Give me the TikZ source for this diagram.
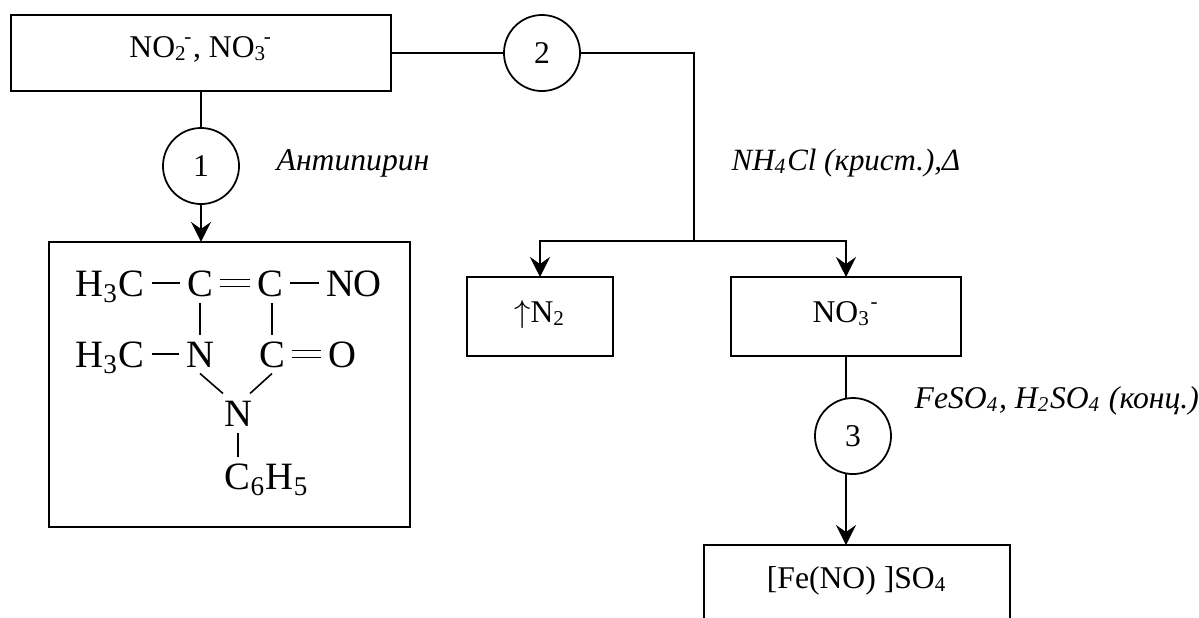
\documentclass[tikz,border=0pt]{standalone}
\usepackage{fontspec}
\setmainfont{Liberation Serif}
\usetikzlibrary{arrows.meta}

\tikzset{
	box/.style={draw,line width=0.55pt,inner sep=0pt,outer sep=0pt,font=\fontsize{9}{11}\selectfont},
	circ/.style={draw,circle,line width=0.5pt,minimum size=0.76cm,inner sep=0pt,outer sep=0pt,font=\fontsize{9}{11}\selectfont},
	atom/.style={inner xsep=0.07cm,inner ysep=0.06cm,outer sep=0pt,text height=0.27cm,text depth=0pt,font=\fontsize{11}{13}\selectfont},
	cond/.style={anchor=base west,inner sep=0pt,font=\fontsize{9}{11}\selectfont\itshape},
	line/.style={line width=0.5pt},
	arr/.style={line width=0.5pt,-{Stealth[length=0.2cm,width=0.2cm,inset=0.07cm]}},
	bond/.style={line width=0.45pt},
	dbond/.style={line width=0.45pt,double,double distance=0.055cm}
}

\begin{document}
\begin{tikzpicture}[x=0.01cm,y=-0.01cm]
	\useasboundingbox (0,0) rectangle (1199,617);
	\clip (0,0) rectangle (1199,617);
	% boxes
	\node[box,minimum width=3.8cm,minimum height=0.76cm,text height=0.2cm,text depth=0.12cm] (ions) at (201,53) {NO\textsubscript{2}\kern-0.1em\textsuperscript{-}, NO\textsubscript{3}\kern-0.1em\textsuperscript{-}};
	\node[box,minimum width=3.61cm,minimum height=2.85cm] (mol) at (229.5,384.5) {};
	\node[box,minimum width=1.46cm,minimum height=0.79cm,text height=0.22cm,text depth=0.11cm] (nitrogen) at (540,316.5) {$\uparrow$N\textsubscript{2}};
	\node[box,minimum width=2.30cm,minimum height=0.79cm,text height=0.22cm,text depth=0.11cm] (nitrate) at (846,316.5) {NO\textsubscript{3}\textsuperscript{-}};
	\node[box,anchor=north,minimum width=3.05cm,inner ysep=0.2cm,text height=0.23cm,text depth=0.5cm] (ring) at (857,545) {[Fe(NO) ]SO\textsubscript{4}};
	\foreach \name/\x/\y/\num in {
		one/201/166/1,
		two/542/53/2,
		three/853/436/3}
	{
		\node[circ] (\name) at (\x,\y) {\num};
	}
	% conditions
	\node[cond] (antipyrine) at (276,170) {Антипирин};
	\node[cond,font=\fontsize{8.8}{11}\selectfont\itshape] (chloride) at (731,170) {NH\textsubscript{4}Cl (крист.),Δ};
	\node[cond] (sulfate) at (914,408) {FeSO\textsubscript{4}, H\textsubscript{2}SO\textsubscript{4} (конц.)};
	% molecule
	\foreach \name/\x/\y/\txt in {
		methyla/110/283/H\textsubscript{3}C,
		carba/200/283/C,
		carbb/270/283/C,
		nitroso/354/283/NO,
		methylb/110/354/H\textsubscript{3}C,
		nitra/200/354/N,
		carbc/272/354/C,
		oxygen/342/354/O,
		nitrb/238/413/N,
		phenyl/267/476/C\textsubscript{6}H\textsubscript{5}}
	{
		\node[atom] (\name) at (\x,\y) {\txt};
	}
	\foreach \a/\b in {methyla/carba,carbb/nitroso,methylb/nitra,carba/nitra}
	{
		\draw[bond] (\a) -- (\b);
	}
	\draw[bond] (carbb.south -| carbc) -- (carbc.north);
	\draw[bond] (nitra.south) -- ([xshift=-0.15cm]nitrb.north);
	\draw[bond] (carbc.south) -- ([xshift=0.12cm]nitrb.north);
	\draw[bond] (nitrb.south) -- (nitrb.south |- phenyl.north);
	\draw[dbond] (carba) -- (carbb);
	\draw[dbond] (carbc) -- (oxygen);
	% connectors
	\coordinate (fork) at (694,241);
	\draw[line] (ions.south) -- (one.north);
	\draw[arr] (one.south) -- (one.south |- mol.north);
	\draw[line] (ions.east) -- (two.west);
	\draw[line] (two.east) -- (two.east -| fork) -- (fork);
	\draw[arr] (fork) -| (nitrogen.north);
	\draw[arr] (fork) -| (nitrate.north);
	\draw[line] (nitrate.south) -- (nitrate.south |- three.north);
	\draw[arr] (three.south -| nitrate.south) -- (ring.north -| nitrate.south);
\end{tikzpicture}
\end{document}
